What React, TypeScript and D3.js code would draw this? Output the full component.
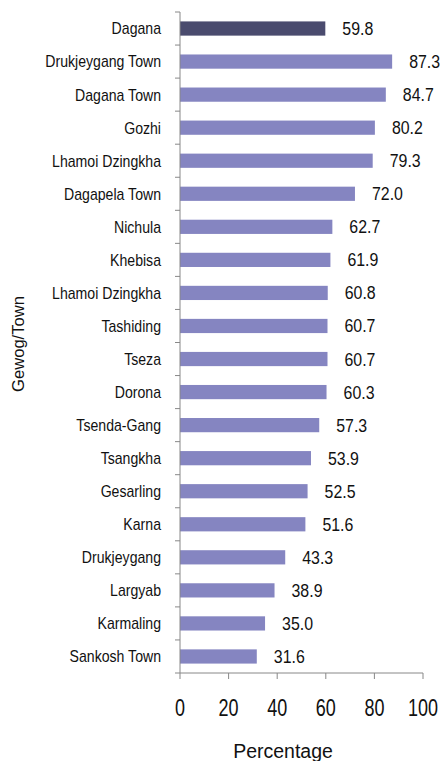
import React from "react";
import * as d3 from "d3";

const categories = [
  "Dagana", "Drukjeygang Town", "Dagana Town", "Gozhi", "Lhamoi Dzingkha",
  "Dagapela Town", "Nichula", "Khebisa", "Lhamoi Dzingkha", "Tashiding",
  "Tseza", "Dorona", "Tsenda-Gang", "Tsangkha", "Gesarling", "Karna",
  "Drukjeygang", "Largyab", "Karmaling", "Sankosh Town",
];
const values = [
  59.8, 87.3, 84.7, 80.2, 79.3, 72.0, 62.7, 61.9, 60.8, 60.7,
  60.7, 60.3, 57.3, 53.9, 52.5, 51.6, 43.3, 38.9, 35.0, 31.6,
];
const xTicks = [0, 20, 40, 60, 80, 100];

const font = "'Liberation Sans', Arial, sans-serif";

// condensed look: squeeze normal text horizontally
const Narrow = ({ x, y, size, sx, anchor, children }: any) => (
  <text
    transform={`translate(${x},${y}) scale(${sx},1)`}
    dy="0.35em"
    textAnchor={anchor}
    fontFamily={font}
    fontSize={size}
    fill="#111"
  >
    {children}
  </text>
);

const App = () => {
  const width = 441;
  const height = 761;
  const left = 180;
  const right = 423;
  const top = 12;
  const bottom = 673;

  const x = d3.scaleLinear().domain([0, 100]).range([left, right]);
  const idx = categories.map((_, i) => i);
  const y = d3.scaleBand<number>().domain(idx).range([top, bottom]).paddingInner(0.57).paddingOuter(0.285);
  const step = y.step();

  return (
    <svg width={width} height={height} style={{ position: "absolute", left: 0, top: 0 }}>
      {idx.map((i) => {
        const cy = y(i)! + y.bandwidth() / 2;
        return (
          <g key={i}>
            <rect
              x={x(0)}
              y={y(i)}
              width={x(values[i]) - x(0)}
              height={y.bandwidth()}
              fill={i === 0 ? "#4a4b6e" : "#8585c1"}
            />
            <Narrow x={161} y={cy} size={16.8} sx={0.84} anchor="end">
              {categories[i]}
            </Narrow>
            <Narrow x={x(values[i]) + 17} y={cy} size={18.5} sx={0.86} anchor="start">
              {values[i].toFixed(1)}
            </Narrow>
          </g>
        );
      })}
      <line x1={left} x2={left} y1={top} y2={bottom} stroke="#888" />
      {d3.range(categories.length + 1).map((k) => (
        <line key={k} x1={left - 5} x2={left} y1={top + k * step} y2={top + k * step} stroke="#888" />
      ))}
      <line x1={left} x2={right} y1={bottom} y2={bottom} stroke="#888" />
      {xTicks.map((t) => (
        <g key={t}>
          <line x1={x(t)} x2={x(t)} y1={bottom} y2={bottom + 6} stroke="#888" />
          <Narrow x={x(t)} y={708} size={24} sx={0.75} anchor="middle">
            {t}
          </Narrow>
        </g>
      ))}
      <text x={283} y={751} dy="0.35em" textAnchor="middle" fontFamily={font} fontSize={19.5} fill="#111">
        Percentage
      </text>
      <text transform={`translate(18,344) rotate(-90)`} dy="0.35em" textAnchor="middle"
        fontFamily={font} fontSize={16.6} fill="#111">
        Gewog/Town
      </text>
    </svg>
  );
};

export default App;
